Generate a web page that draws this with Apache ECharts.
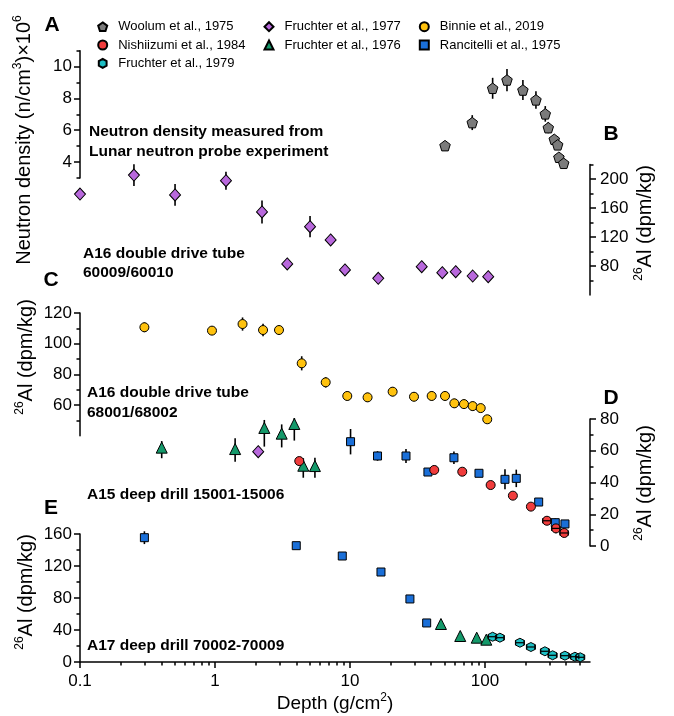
<!DOCTYPE html>
<html><head><meta charset="utf-8">
<script src="https://cdn.jsdelivr.net/npm/echarts@6/dist/echarts.min.js"></script>
<style>html,body{margin:0;padding:0;background:#fff}#c{width:674px;height:716px}</style>
</head><body><div id="c"></div>
<script>
// ---------------- data ----------------
const xTickValues = [0.1, 1, 10, 100];
const xMinorTicks = [0.2,0.3,0.4,0.5,0.6,0.7,0.8,0.9,2,3,4,5,6,7,8,9,20,30,40,50,60,70,80,90,200,300,400,500];

const aTicks = [4, 6, 8, 10],        aMinor = [3, 5, 7, 9, 11];
const bTicks = [80, 120, 160, 200],  bMinor = [60, 100, 140, 180, 220];
const cTicks = [60, 80, 100, 120],   cMinor = [50, 70, 90, 110];
const dTicks = [0, 20, 40, 60, 80],  dMinor = [10, 30, 50, 70];
const eTicks = [0, 40, 80, 120, 160], eMinor = [20, 60, 100, 140];

// Panel A: Woolum et al., 1975 (neutron density x1e6)
const woolumDepth = [50.6, 80.5, 114, 145.6, 191, 238.6, 279.8, 294.5, 326, 345.6, 353, 383];
const woolumDensity = [5.03, 6.48, 8.64, 9.16, 8.53, 7.91, 7.03, 6.16, 5.43, 5.08, 4.30, 3.92];
const woolumErr = [0.25, 0.47, 0.66, 0.7, 0.63, 0.55, 0.49, 0.35, 0.25, 0.2, 0.2, 0.2];

// Panel B: Fruchter et al., 1977 (A16 60009/60010)
const fr77bDepth = [0.1, 0.251, 0.506, 1.206, 2.23, 3.43, 5.06, 7.19, 9.18, 16.2, 34, 48.3, 60.7, 81.1, 105.7];
const fr77bAl = [179.3, 205.5, 178, 197.7, 154.5, 82.8, 134.2, 115.9, 74.5, 63, 79, 70.8, 72.1, 66.2, 65.2];
const fr77bErr = [0, 15, 15, 12.4, 16, 0, 14.7, 0, 0, 0, 0, 0, 0, 0, 0];

// Panel C: Binnie et al., 2019 (A16 68001/68002)
const binnieDepth = [0.3, 0.95, 1.6, 2.27, 2.98, 4.39, 6.61, 9.55, 13.5, 20.7, 29.8, 40.3, 50.6, 59.3, 69.9, 81.1, 93, 104];
const binnieAl = [110.7, 108.5, 112.8, 108.9, 108.9, 87.2, 74.8, 65.9, 65.0, 68.7, 65.4, 65.9, 65.9, 61.1, 60.6, 59.3, 58.0, 50.7];
const binnieErr = [3.2, 2.7, 4.3, 4.1, 3, 4.6, 3.4, 3, 3, 3, 3, 3, 3, 3, 3, 3, 2.5, 2.5];

// Panel D: A15 deep drill 15001-15006
const fr76dDepth = [0.403, 1.41, 2.32, 3.12, 3.87, 4.51, 5.5];
const fr76dAl = [60.7, 59.8, 73.1, 69.5, 75.6, 49.3, 49.1];
const fr76dErrLow = [5.4, 6.7, 10.5, 7.4, 9.2, 6.3, 6.1];
const fr76dErrHigh = [5.4, 8, 6.3, 7.1, 5, 6, 6.5];

const fr77dDepth = [2.09];
const fr77dAl = [59.4];

const nishDepth = [4.21, 42.1, 67.9, 110.2, 161, 219, 287.8, 335.6, 386.5];
const nishAl = [53.5, 47.9, 46.8, 38.4, 31.7, 24.8, 15.9, 11.1, 8.2];
const nishErr = [0, 2, 2, 2, 2, 2, 2, 3, 2];
const nishDepthErr = [0, 0, 0, 0, 0, 0, 20, 23, 27];

const ranDDepth = [10.1, 16.0, 26, 37.8, 58.9, 90.3, 140.7, 170.6, 250, 331.7, 391.4];
const ranDAl = [65.7, 56.7, 56.7, 46.6, 55.6, 45.8, 42, 42.6, 27.7, 14.7, 13.9];
const ranDErr = [8, 3, 4.4, 2, 4, 2, 6.3, 5.5, 2, 2.6, 2];

// Panel E: A17 deep drill 70002-70009
const ranEDepth = [0.3, 4.0, 8.77, 16.97, 27.8, 37];
const ranEAl = [155.4, 145.4, 132.5, 112.5, 78.8, 48.8];
const ranEErr = [8, 4, 3, 3, 4, 2];

const fr76eDepth = [47.2, 65.6, 86.9, 102.3];
const fr76eAl = [47.5, 32.5, 30.4, 27.9];

const fr79Depth = [114, 129, 181.6, 219, 278, 317, 391, 464, 508];
const fr79Al = [31.6, 30.4, 24.1, 18.75, 13.4, 8.4, 7.9, 6.6, 5.9];
const fr79Err = [2, 2, 2, 2, 2, 2, 2, 2, 2];
const fr79DepthErr = [8, 9, 13, 15, 19, 22, 27, 32, 35];

// ---------------- styling / layout ----------------
const FONT = "'Liberation Sans', Arial, Helvetica, sans-serif";
const PENT = 'path://M0,-10L9.51,-3.09L5.88,8.09L-5.88,8.09L-9.51,-3.09Z';
const HEX = 'path://M0,-10L8.66,-5L8.66,5L0,10L-8.66,5L-8.66,-5Z';
const C = {
  woolum: '#7b7b7b', nish: '#f03c3c', fr79: '#1ebfc4', fr77: '#b868dc',
  fr76: '#14996a', binnie: '#ffc20e', ran: '#1a6fd8'
};
const N = {
  woolum: 'Woolum et al., 1975', nish: 'Nishiizumi et al., 1984', fr79: 'Fruchter et al., 1979',
  fr77: 'Fruchter et al., 1977', fr76: 'Fruchter et al., 1976', binnie: 'Binnie et al., 2019',
  ran: 'Rancitelli et al., 1975'
};

const grids = [
  {left: 80, width: 510, top: 50.8, height: 127.1},
  {left: 80, width: 510, top: 164.5, height: 130.5},
  {left: 80, width: 510, top: 313, height: 122.7},
  {left: 80, width: 510, top: 419, height: 127},
  {left: 80, width: 510, top: 534, height: 128}
];

const axisLineStyle = {color: '#000', width: 1.5};

function yPair(g, pos, min, max, majors, minors) {
  const common = {type: 'value', gridIndex: g, position: pos, min: min, max: max,
    splitLine: {show: false}, minorTick: {show: false}, minorSplitLine: {show: false}};
  return [
    Object.assign({}, common, {
      axisLine: {show: true, onZero: false, lineStyle: axisLineStyle},
      axisTick: {show: true, inside: false, length: 6, customValues: majors, lineStyle: axisLineStyle},
      axisLabel: {show: true, customValues: majors, margin: pos === 'left' ? 8 : 10,
        fontSize: 17, color: '#000', fontFamily: FONT}
    }),
    Object.assign({}, common, {
      axisLine: {show: false},
      axisTick: {show: true, inside: false, length: 3.5, customValues: minors, lineStyle: axisLineStyle},
      axisLabel: {show: false}
    })
  ];
}

const yAxes = [].concat(
  yPair(0, 'left', 3, 11, aTicks, aMinor),
  yPair(1, 'right', 40, 220, bTicks, bMinor),
  yPair(2, 'left', 40, 120, cTicks, cMinor),
  yPair(3, 'right', 0, 80, dTicks, dMinor),
  yPair(4, 'left', 0, 160, eTicks, eMinor)
);

const xAxes = grids.map((_, g) => ({
  type: 'log', logBase: 10, gridIndex: g, min: 0.1, max: 600, show: g === 4,
  axisLine: {show: true, onZero: false, lineStyle: axisLineStyle},
  axisTick: {show: true, inside: false, length: 6, customValues: xTickValues, lineStyle: axisLineStyle},
  axisLabel: {show: true, customValues: xTickValues, fontSize: 17, color: '#000', margin: 11,
    fontFamily: FONT, formatter: v => String(+(+v).toPrecision(3))},
  splitLine: {show: false}, minorTick: {show: false}, minorSplitLine: {show: false}
}));
xAxes.push({
  type: 'log', logBase: 10, gridIndex: 4, min: 0.1, max: 600, position: 'bottom',
  axisLine: {show: false},
  axisTick: {show: true, inside: false, length: 3.5, customValues: xMinorTicks, lineStyle: axisLineStyle},
  axisLabel: {show: false}, splitLine: {show: false}
});

function pts(xs, ys, lo, hi, xe) {
  return xs.map((x, i) => [x, ys[i], lo ? lo[i] : 0, hi ? hi[i] : (lo ? lo[i] : 0), xe ? xe[i] : 0]);
}

function vErr(key, g, data) {
  return {
    type: 'custom', name: 'verr-' + key + g, xAxisIndex: g, yAxisIndex: g * 2, data: data,
    z: 1, silent: true, encode: {x: 0, y: 1},
    renderItem: function (params, api) {
      const x = api.value(0), y = api.value(1), lo = api.value(2), hi = api.value(3);
      if (!(lo > 0 || hi > 0)) return {type: 'group', children: []};
      const a = api.coord([x, y - lo]), b = api.coord([x, y + hi]);
      return {type: 'line', shape: {x1: a[0], y1: a[1], x2: b[0], y2: b[1]},
        style: {stroke: '#000', lineWidth: 1.6}};
    }
  };
}
function hErr(key, g, data) {
  return {
    type: 'custom', name: 'herr-' + key + g, xAxisIndex: g, yAxisIndex: g * 2, data: data,
    z: 5, silent: true, encode: {x: 0, y: 1},
    renderItem: function (params, api) {
      const x = api.value(0), y = api.value(1), xe = api.value(4);
      if (!(xe > 0)) return {type: 'group', children: []};
      const a = api.coord([x - xe, y]), b = api.coord([x + xe, y]);
      return {type: 'group', children: [
        {type: 'line', shape: {x1: a[0], y1: a[1], x2: b[0], y2: b[1]}, style: {stroke: '#000', lineWidth: 1.2}},
        {type: 'line', shape: {x1: a[0], y1: a[1] - 2.5, x2: a[0], y2: a[1] + 2.5}, style: {stroke: '#000', lineWidth: 1.2}},
        {type: 'line', shape: {x1: b[0], y1: b[1] - 2.5, x2: b[0], y2: b[1] + 2.5}, style: {stroke: '#000', lineWidth: 1.2}}
      ]};
    }
  };
}
function scat(key, g, data, symbol, size, extra) {
  return Object.assign({
    type: 'scatter', name: N[key], xAxisIndex: g, yAxisIndex: g * 2, data: data,
    symbol: symbol, symbolSize: size, z: 3, clip: false,
    itemStyle: {color: C[key], borderColor: '#000', borderWidth: 1, opacity: 1},
    emphasis: {disabled: true}
  }, extra || {});
}

const dWoolum = pts(woolumDepth, woolumDensity, woolumErr);
const dFr77b = pts(fr77bDepth, fr77bAl, fr77bErr);
const dBinnie = pts(binnieDepth, binnieAl, binnieErr);
const dFr76d = pts(fr76dDepth, fr76dAl, fr76dErrLow, fr76dErrHigh);
const dFr77d = pts(fr77dDepth, fr77dAl);
const dNish = pts(nishDepth, nishAl, nishErr, null, nishDepthErr);
const dRanD = pts(ranDDepth, ranDAl, ranDErr);
const dRanE = pts(ranEDepth, ranEAl, ranEErr);
const dFr76e = pts(fr76eDepth, fr76eAl);
const dFr79 = pts(fr79Depth, fr79Al, fr79Err, null, fr79DepthErr);

const series = [
  vErr('woolum', 0, dWoolum), scat('woolum', 0, dWoolum, PENT, 10.5),
  vErr('fr77', 1, dFr77b), scat('fr77', 1, dFr77b, 'diamond', [11, 12]),
  vErr('binnie', 2, dBinnie), scat('binnie', 2, dBinnie, 'circle', 9),
  vErr('fr76', 3, dFr76d), scat('fr76', 3, dFr76d, 'triangle', 11, {symbolOffset: [0, -2]}),
  scat('fr77', 3, dFr77d, 'diamond', [11, 12]),
  vErr('ran', 3, dRanD), scat('ran', 3, dRanD, 'rect', 8),
  vErr('nish', 3, dNish), scat('nish', 3, dNish, 'circle', 9), hErr('nish', 3, dNish),
  vErr('ran', 4, dRanE), scat('ran', 4, dRanE, 'rect', 8),
  scat('fr76', 4, dFr76e, 'triangle', 11),
  vErr('fr79', 4, dFr79), scat('fr79', 4, dFr79, HEX, 9), hErr('fr79', 4, dFr79)
];

function legendBlock(left, items) {
  return {
    orient: 'vertical', left: left, top: 19.7, padding: 0, itemGap: 4.3,
    itemWidth: 9, itemHeight: 9, selectedMode: false,
    textStyle: {fontSize: 13, lineHeight: 14, color: '#000', fontFamily: FONT, padding: [0, 0, 0, 6]},
    data: items
  };
}
const legends = [
  legendBlock(97.2, [{name: N.woolum, icon: PENT}, {name: N.nish, icon: 'circle'}, {name: N.fr79, icon: HEX}]),
  legendBlock(263.5, [{name: N.fr77, icon: 'diamond'}, {name: N.fr76, icon: 'triangle'}]),
  legendBlock(418.8, [{name: N.binnie, icon: 'circle'}, {name: N.ran, icon: 'rect'}])
];

function txt(x, y, text, size, bold, opts) {
  opts = opts || {};
  return {
    type: 'text', x: x, y: y, rotation: opts.rot || 0, z: 10, silent: true,
    style: {
      text: text, fontSize: size, fontWeight: bold ? 'bold' : 'normal', fontFamily: FONT, fill: '#000',
      align: opts.align || 'left', textAlign: opts.align || 'left',
      verticalAlign: 'middle', textVerticalAlign: 'middle',
      lineHeight: opts.lh, rich: opts.rich
    }
  };
}
const supRich = {s: {fontSize: 12, verticalAlign: 'top', fontFamily: FONT, fill: '#000'}};
const R = Math.PI / 2;

const graphic = [
  txt(52, 25, 'A', 21, true, {align: 'center'}),
  txt(611, 134, 'B', 21, true, {align: 'center'}),
  txt(51, 280, 'C', 21, true, {align: 'center'}),
  txt(611, 398, 'D', 21, true, {align: 'center'}),
  txt(51, 508, 'E', 21, true, {align: 'center'}),
  txt(89, 131.5, 'Neutron density measured from', 15.5, true),
  txt(89, 151.5, 'Lunar neutron probe experiment', 15.5, true),
  txt(83, 253.5, 'A16 double drive tube', 15.5, true),
  txt(83, 273, '60009/60010', 15.5, true),
  txt(87, 393, 'A16 double drive tube', 15.5, true),
  txt(87, 413, '68001/68002', 15.5, true),
  txt(87, 494.5, 'A15 deep drill 15001-15006', 15.5, true),
  txt(87, 646, 'A17 deep drill 70002-70009', 15.5, true),
  txt(24, 140, 'Neutron density (n/cm{s|3})×10{s|6}', 20, false, {align: 'center', rot: R, lh: 24, rich: supRich}),
  txt(645, 223, '{s|26}Al (dpm/kg)', 20, false, {align: 'center', rot: R, lh: 24, rich: supRich}),
  txt(26, 357, '{s|26}Al (dpm/kg)', 20, false, {align: 'center', rot: R, lh: 24, rich: supRich}),
  txt(645, 483, '{s|26}Al (dpm/kg)', 20, false, {align: 'center', rot: R, lh: 24, rich: supRich}),
  txt(26, 592, '{s|26}Al (dpm/kg)', 20, false, {align: 'center', rot: R, lh: 24, rich: supRich}),
  txt(335, 704, 'Depth (g/cm{s|2})', 19, false, {align: 'center', lh: 24, rich: supRich})
];

const chart = echarts.init(document.getElementById('c'), null, {renderer: 'canvas'});
chart.setOption({
  backgroundColor: '#fff',
  animation: false,
  textStyle: {fontFamily: FONT},
  grid: grids,
  xAxis: xAxes,
  yAxis: yAxes,
  legend: legends,
  series: series,
  graphic: graphic
});
</script>
</body></html>
